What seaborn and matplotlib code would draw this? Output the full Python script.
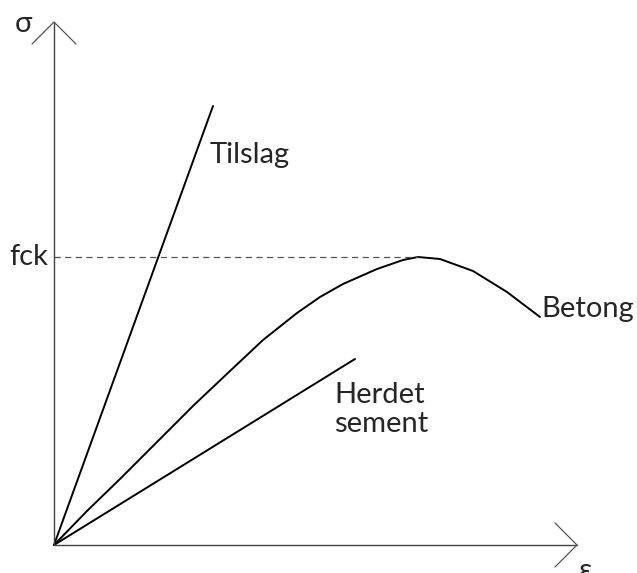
import numpy as np
import pandas as pd
from matplotlib import pyplot as plt
import seaborn as sns

sns.set_style('white')
plt.rcParams['font.family'] = ['Lato', 'DejaVu Sans']

# strain / stress (arbitrary units, origin at 0,0)
tilslag_eps = [0, 159]
tilslag_sig = [0, 439]

sement_eps = [0, 301]
sement_sig = [0, 186]

betong_eps = [0, 33, 67, 140, 176, 209, 243, 266, 289, 323, 349, 364, 386, 419, 453, 486]
betong_sig = [0, 34, 67, 140, 174, 205, 232, 248, 261, 276, 285, 288, 286, 274, 253, 228]

fck = 288
eps_max = 523
sig_max = 523

df = pd.concat([
    pd.DataFrame({'eps': tilslag_eps, 'sig': tilslag_sig, 'mat': 'Tilslag'}),
    pd.DataFrame({'eps': sement_eps, 'sig': sement_sig, 'mat': 'Herdet sement'}),
    pd.DataFrame({'eps': betong_eps, 'sig': betong_sig, 'mat': 'Betong'}),
])

fig = plt.figure(figsize=(6.37, 5.73), dpi=100)
ax = fig.add_axes([0, 0, 1, 1])

sns.lineplot(x='eps', y='sig', units='mat', estimator=None, sort=False,
             color='black', linewidth=1.4, data=df, ax=ax, legend=False)

# fck dashed line to the peak
ax.plot([0, betong_eps[betong_sig.index(fck)]], [fck, fck], linestyle=(0, (5, 3.5)),
        color='#555555', linewidth=0.9)

# axes with open arrow heads
arm = 22
ax.plot([0, 0], [0, sig_max], color='#444444', linewidth=1.0)
ax.plot([0, eps_max], [0, 0], color='#444444', linewidth=1.0)
ax.plot([-arm, 0, arm], [sig_max - arm, sig_max, sig_max - arm], color='#555555', linewidth=0.9)
ax.plot([eps_max - arm, eps_max, eps_max - arm], [arm, 0, -arm], color='#555555', linewidth=0.9)

fs = 21
ax.text(-31, 521, 'σ', fontsize=fs, ha='center', va='center')
ax.text(-6, fck, 'fck', fontsize=fs, ha='right', va='center')
ax.text(156, 382, 'Tilslag', fontsize=fs, ha='left', va='baseline')
ax.text(487, 228, 'Betong', fontsize=fs, ha='left', va='baseline')
ax.text(280, 142, 'Herdet', fontsize=fs, ha='left', va='baseline')
ax.text(280, 113, 'sement', fontsize=fs, ha='left', va='baseline')
ax.text(531, -13, 'ε', fontsize=fs, ha='center', va='top')

ax.set_xlim(-54, 583)
ax.set_ylim(-28, 545)
ax.axis('off')

plt.savefig('out.png', dpi=100)
